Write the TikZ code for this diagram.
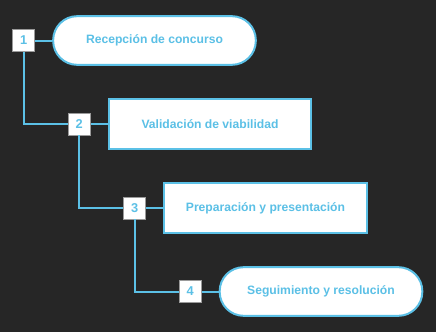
\documentclass[tikz,border=0pt]{standalone}
\usepackage{fontspec}
\setmainfont{Liberation Sans}
\usepackage{xcolor}
\usetikzlibrary{positioning}
\definecolor{bgdark}{HTML}{262626}
\definecolor{skyline}{HTML}{5BC0E6}
\definecolor{numedge}{HTML}{9A9A9A}

\begin{document}
\begin{tikzpicture}[x=0.75pt,y=-0.75pt,node distance=12.75pt,
  pill/.style={rectangle,draw=skyline,line width=1.5pt,rounded corners=18pt,fill=white,
               minimum width=152pt,minimum height=36.5pt,inner sep=0pt,
               font=\bfseries\fontsize{9.1}{10}\selectfont,text=skyline},
  stepbox/.style={rectangle,draw=skyline,line width=1.5pt,fill=white,
               minimum width=152pt,minimum height=37pt,inner sep=0pt,
               font=\bfseries\fontsize{9.1}{10}\selectfont,text=skyline},
  num/.style={rectangle,draw=numedge,line width=0.6pt,fill=white,
              minimum size=16.5pt,inner sep=0pt,
              font=\bfseries\fontsize{9.6}{10}\selectfont,text=skyline},
  link/.style={draw=skyline,line width=1.5pt}]
\fill[bgdark] (0,0) rectangle (436,332);
\useasboundingbox (0,0) rectangle (436,332);
\node[pill]    (recep)  at (154.5,40.5) {Recepción de concurso};
\node[stepbox] (valid)  at (210,124)    {Validación de viabilidad};
\node[stepbox] (prep)   at (265.5,208)  {Preparación y presentación};
\node[pill]    (segui)  at (321,291.5)  {Seguimiento y resolución};
\node[num,left=of recep] (n1) {1};
\node[num,left=of valid] (n2) {2};
\node[num,left=of prep]  (n3) {3};
\node[num,left=of segui] (n4) {4};
% short stubs from each number to its step
\path[link] (n1) -- (recep);
\path[link] (n2) -- (valid);
\path[link] (n3) -- (prep);
\path[link] (n4) -- (segui);
% stair connectors between the numbers
\path[link] (n1.south) |- (n2.west);
\path[link] (n2.south) |- (n3.west);
\path[link] (n3.south) |- (n4.west);
\end{tikzpicture}
\end{document}
